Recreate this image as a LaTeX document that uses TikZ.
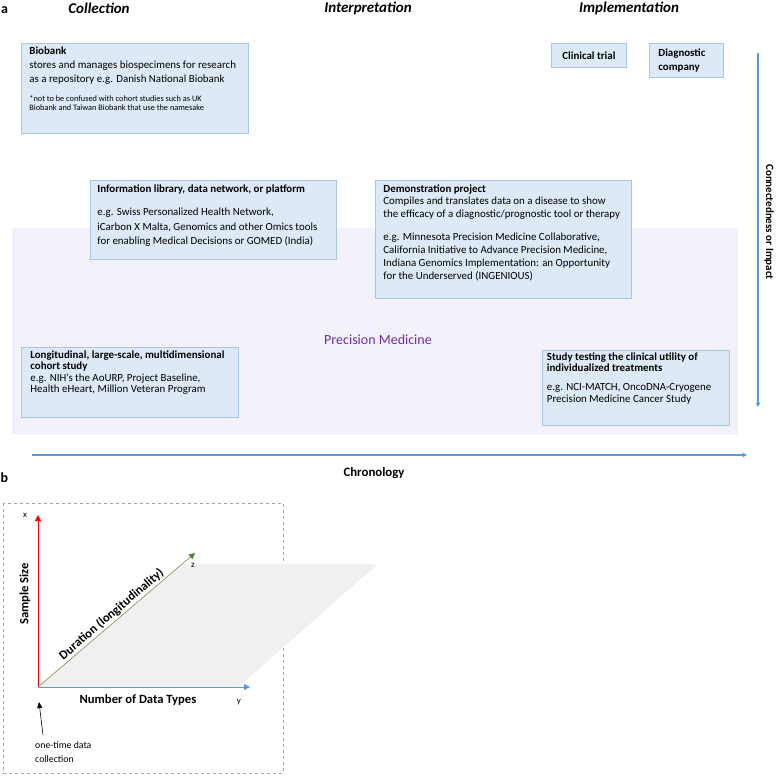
\documentclass[tikz,border=0pt]{standalone}
\usepackage{fontspec}
\setmainfont{Carlito}
\usetikzlibrary{arrows.meta}
\definecolor{boxfill}{HTML}{DDE9F6}
\definecolor{boxline}{HTML}{A9C6E3}
\definecolor{arrblue}{HTML}{5B9BD5}
\definecolor{pmbg}{HTML}{F3F1FC}
\definecolor{pmtext}{HTML}{7030A0}
\definecolor{planegray}{HTML}{F0F0F0}
\definecolor{zline}{HTML}{8C9A6A}
\definecolor{zhead}{HTML}{548235}
\definecolor{dashgray}{HTML}{A6A6A6}
\definecolor{xred}{HTML}{FF0000}
\newcommand{\bx}[4]{\parbox[c][#2][t]{#1}{\raggedright\vspace*{#3}#4}}
\newcommand{\fb}[1]{\fontsize{10.9}{#1}\selectfont}
\begin{document}
\begin{tikzpicture}[x=1pt,y=-1pt,
  infobox/.style={draw=boxline, fill=boxfill, line width=0.8pt, inner ysep=0pt, inner xsep=7pt, anchor=north west},
  header/.style={font=\fontsize{15}{17}\selectfont\bfseries\itshape},
  panel/.style={font=\fontsize{14}{16}\selectfont\bfseries},
  axlab/.style={font=\fontsize{12.6}{14}\selectfont\bfseries},
  small/.style={font=\fontsize{9}{10}\selectfont},
  bluearrow/.style={arrblue, line width=1.3pt, -{Triangle[width=4.5pt,length=4.5pt]}}
]
\useasboundingbox (0,0) rectangle (778,777);
% panel a
\node[panel] (pa) at (4.5,10) {a};
\node[header] (hcol) at (99,8.5) {Collection};
\node[header] (hint) at (368,8.5) {Interpretation};
\node[header] (himp) at (629,8.5) {Implementation};

\fill[pmbg] (12,228) rectangle (738,435);
\node[font=\fontsize{14}{16}\selectfont, text=pmtext] (pm) at (378,340) {Precision Medicine};

\node[infobox, inner xsep=8pt] (bio) at (21,43) {\bx{211pt}{90pt}{3.5pt}{{\fb{14}\textbf{Biobank}\\ stores and manages biospecimens for research\\ as a repository e.g. Danish National Biobank\par}\vspace{9pt}{\fontsize{8.3}{9.5}\selectfont *not to be confused with cohort studies such as UK\\ Biobank and Taiwan Biobank that use the namesake\par}}};

\node[infobox, minimum width=75pt, minimum height=24pt, inner sep=0pt] (ct) at (551,43) {\fb{12}\textbf{Clinical trial}};
\node[infobox, inner xsep=9pt] (dc) at (649,43) {\bx{56pt}{34pt}{5.5pt}{\fb{14}\textbf{Diagnostic}\\ \textbf{company}}};

\node[infobox, inner xsep=7pt] (lib) at (90,180) {\bx{232pt}{79pt}{4.5pt}{{\fb{14}\textbf{Information library, data network, or platform}\par}\vspace{8.5pt}{\fb{14.5}e.g. Swiss Personalized Health Network,\\ iCarbon X Malta, Genomics and other Omics tools\\ for enabling Medical Decisions or GOMED (India)\par}}};

\node[infobox, inner xsep=8pt] (demo) at (375,180) {\bx{240pt}{118pt}{4.5pt}{{\fb{12.3}\textbf{Demonstration project}\\ \mbox{Compiles and translates data on a disease to show}\\ \mbox{the efficacy of a diagnostic/prognostic tool or therapy}\par}\vspace{10pt}{\fb{13}\mbox{e.g. Minnesota Precision Medicine Collaborative,}\\ \mbox{California Initiative to Advance Precision Medicine,}\\ \mbox{Indiana Genomics Implementation: an Opportunity}\\ for the Underserved (INGENIOUS)\par}}};

\node[infobox, inner xsep=9pt] (coh) at (21,347) {\bx{199pt}{70pt}{3.5pt}{{\fb{11.3}\mbox{\textbf{Longitudinal, large-scale, multidimensional}}\\ \textbf{cohort study}\\ e.g. NIH’s the AoURP, Project Baseline,\\ Health eHeart, Million Veteran Program\par}}};

\node[infobox, inner xsep=4.5pt] (stu) at (542,350) {\bx{178pt}{75pt}{2pt}{{\fb{11.5}\mbox{\textbf{Study testing the clinical utility of}}\\ \textbf{individualized treatments}\par}\vspace{7.5pt}{\fb{11.5}\mbox{e.g. NCI-MATCH, OncoDNA-Cryogene}\\ Precision Medicine Cancer Study\par}}};

\coordinate (v1) at (758,53);
\coordinate (v2) at (758,407);
\draw[bluearrow] (v1) -- (v2);
\node[font=\fontsize{11}{13}\selectfont\bfseries, rotate=-90] (conn) at (769,222) {Connectedness or Impact};

\coordinate (h1) at (32,455);
\coordinate (h2) at (747,455);
\draw[bluearrow] (h1) -- (h2);
\node[font=\fontsize{12.8}{15}\selectfont\bfseries] (chron) at (374,473) {Chronology};

% panel b
\node[panel] (pb) at (4.5,478) {b};
\draw[dashgray, dashed, line width=0.6pt] (3,503) rectangle (283,773);
\coordinate (o) at (38,687);
\coordinate (xt) at (38,515);
\coordinate (yt) at (250,687);
\coordinate (zt) at (195,553);
\fill[planegray] (o) -- (238,687) -- (378,564) -- (182,564) -- cycle;
\draw[xred, line width=1pt, -{Triangle[width=6pt,length=6pt]}] (o) -- (xt);
\draw[arrblue, line width=1pt, -{Triangle[width=6pt,length=6pt]}] (o) -- (yt);
\draw[zline, line width=0.7pt, -{Triangle[width=6pt,length=6pt,color=zhead]}] (o) -- (zt)
  node[pos=0.5, anchor=south, rotate=40.6, inner sep=1.5pt, axlab, text=black] (dur) {Duration (longitudinality)};
\node[small] (xl) at (25,515) {x};
\node[small] (yl) at (239,702) {y};
\node[small] (zl) at (193,565) {z};
\node[axlab, rotate=90] (ss) at (25,594) {Sample Size};
\node[axlab] (nd) at (138,700) {Number of Data Types};
\coordinate (ot1) at (43,735);
\coordinate (ot2) at (39,702);
\draw[line width=0.6pt, -{Triangle[width=5pt,length=6pt]}] (ot1) -- (ot2);
\node[font=\fontsize{9.8}{14}\selectfont, anchor=north west, align=left, inner sep=0pt] (otl) at (35,741) {one-time data\\ collection};
\end{tikzpicture}
\end{document}
